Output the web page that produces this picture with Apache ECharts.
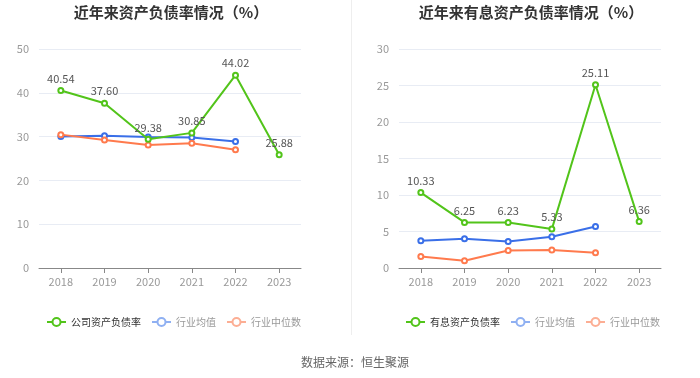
<!DOCTYPE html>
<html><head><meta charset="utf-8">
<script src="https://cdn.jsdelivr.net/npm/echarts@6/dist/echarts.min.js"></script>
<style>html,body{margin:0;padding:0;background:#fff}#c{width:700px;height:378px}</style>
</head><body><div id="c"></div>
<script>
var years = ['2018','2019','2020','2021','2022','2023'];
var leftTitle = '近年来资产负债率情况（%）';
var rightTitle = '近年来有息资产负债率情况（%）';
var companyDebt = [40.54, 37.60, 29.38, 30.85, 44.02, 25.88];
var industryAvgDebt = [30.0, 30.2, 29.9, 29.8, 28.9];
var industryMedDebt = [30.45, 29.2, 28.1, 28.5, 27.0];
var companyIntDebt = [10.33, 6.25, 6.23, 5.33, 25.11, 6.36];
var industryAvgInt = [3.73, 4.0, 3.64, 4.28, 5.69];
var industryMedInt = [1.59, 1.0, 2.41, 2.46, 2.09];
var sourceText = '数据来源：恒生聚源';

var GREEN = '#52c41a', BLUE = '#3a6fe8', ORANGE = '#ff7a4d';
var FONT = '"Noto Sans CJK SC", "Noto Sans", sans-serif';

function yAxis(idx, max, interval){
  return {gridIndex: idx, type:'value', min:0, max:max, interval:interval,
    axisLine:{show:false}, axisTick:{show:false},
    axisLabel:{color:'#999', fontSize:11, fontFamily:FONT, margin:10},
    splitLine:{lineStyle:{color:'#e8ecf4'}}};
}
function xAxis(idx){
  return {gridIndex: idx, type:'category', data: years, boundaryGap:true,
    axisLine:{lineStyle:{color:'#888'}}, axisTick:{show:true, alignWithLabel:true, lineStyle:{color:'#888'}},
    axisLabel:{color:'#999', fontSize:11, fontFamily:FONT, margin:8}};
}
function lineSeries(name, data, color, idx, withLabel){
  return {name:name, type:'line', data:data, xAxisIndex:idx, yAxisIndex:idx,
    symbol:'emptyCircle', symbolSize:5, showAllSymbol:true,
    lineStyle:{color:color, width:2}, itemStyle:{color:color, borderWidth:1.5},
    label: withLabel ? {show:true, position:'top', distance:3, color:'#555', fontSize:11, fontFamily:FONT,
      formatter:function(p){return Number(p.value).toFixed(2);}} : {show:false},
    z: withLabel ? 3 : 2};
}
function legend(left, first){
  return {left:left, top:317, padding:0, itemWidth:19, itemHeight:10, itemGap:10,
    textStyle:{fontSize:10, fontFamily:FONT, color:'#999'},
    data:[
      {name:first, textStyle:{color:'#333'}},
      {name:'行业均值', itemStyle:{color:'#8fb0f2'}, lineStyle:{color:'#8fb0f2'}},
      {name:'行业中位数', itemStyle:{color:'#fcae94'}, lineStyle:{color:'#fcae94'}}
    ]};
}

var chart = echarts.init(document.getElementById('c'), null, {renderer:'canvas'});
chart.setOption({
  animation:false,
  backgroundColor:'#fff',
  title:[
    {text:leftTitle, left:166, top:0, textAlign:'center', textStyle:{fontSize:15, fontWeight:'bold', color:'#333', fontFamily:FONT}},
    {text:rightTitle, left:526, top:0, textAlign:'center', textStyle:{fontSize:15, fontWeight:'bold', color:'#333', fontFamily:FONT}},
    {text:sourceText, left:350, top:351, textAlign:'center', textStyle:{fontSize:12, fontWeight:'normal', color:'#666', fontFamily:FONT}}
  ],
  legend:[
    legend(46, '公司资产负债率'),
    legend(405, '有息资产负债率')
  ],
  grid:[
    {left:39, width:262, top:49, height:219},
    {left:399, width:262, top:49, height:219}
  ],
  xAxis:[xAxis(0), xAxis(1)],
  yAxis:[yAxis(0,50,10), yAxis(1,30,5)],
  graphic:[{type:'line', shape:{x1:351.5,y1:0,x2:351.5,y2:335}, style:{stroke:'#eeeeee', lineWidth:1}}],
  series:[
    lineSeries('公司资产负债率', companyDebt, GREEN, 0, true),
    lineSeries('行业均值', industryAvgDebt, BLUE, 0, false),
    lineSeries('行业中位数', industryMedDebt, ORANGE, 0, false),
    lineSeries('有息资产负债率', companyIntDebt, GREEN, 1, true),
    lineSeries('行业均值', industryAvgInt, BLUE, 1, false),
    lineSeries('行业中位数', industryMedInt, ORANGE, 1, false)
  ]
});
</script></body></html>
